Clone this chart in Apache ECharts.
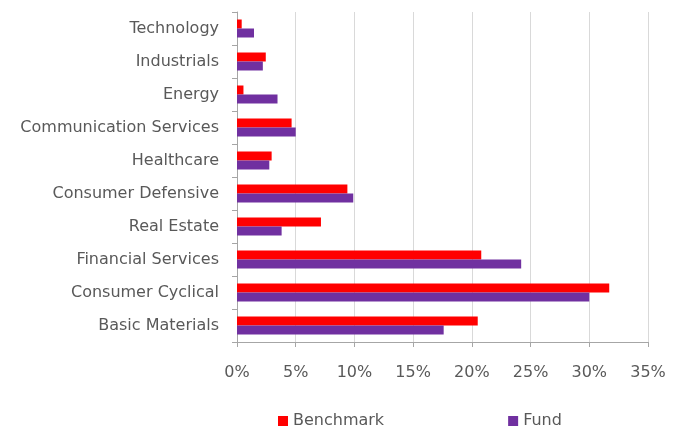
<!DOCTYPE html>
<html>
<head>
<meta charset="utf-8">
<script src="https://cdn.jsdelivr.net/npm/echarts@6/dist/echarts.min.js"></script>
<style>
  html, body { margin: 0; padding: 0; background: #fff; }
  #chart { width: 684px; height: 430px; }
</style>
</head>
<body>
<div id="chart"></div>
<script>
// sectors, bottom to top as on the chart
const sectors = ['Basic Materials', 'Consumer Cyclical', 'Financial Services', 'Real Estate',
  'Consumer Defensive', 'Healthcare', 'Communication Services', 'Energy', 'Industrials', 'Technology']
const benchmark = [20.5, 31.7, 20.8, 7.15, 9.4, 2.95, 4.65, 0.55, 2.45, 0.4]
const fund = [17.6, 30.0, 24.2, 3.8, 9.9, 2.75, 5.0, 3.45, 2.2, 1.45]
const xTicks = [0, 5, 10, 15, 20, 25, 30, 35]

const font = 'DejaVu Sans'
const textColor = '#595959'
const chart = echarts.init(document.getElementById('chart'))

chart.setOption({
  animation: false,
  textStyle: { fontFamily: font },
  grid: { left: 237, right: 36, top: 12, bottom: 88, containLabel: false },
  legend: {
    data: ['Benchmark', 'Fund'],
    left: 273,
    top: 408,
    itemWidth: 10,
    itemHeight: 10,
    itemGap: 124,
    icon: 'rect',
    textStyle: { fontFamily: font, fontSize: 16, color: textColor }
  },
  xAxis: {
    type: 'value',
    min: xTicks[0],
    max: xTicks[xTicks.length - 1],
    interval: 5,
    axisLine: { show: true, lineStyle: { color: '#a6a6a6' } },
    axisTick: { show: true, length: 5, lineStyle: { color: '#a6a6a6' } },
    splitLine: { show: true, lineStyle: { color: '#d9d9d9' } },
    axisLabel: { formatter: '{value}%', margin: 23, fontSize: 16, color: textColor, fontFamily: font }
  },
  yAxis: {
    type: 'category',
    data: sectors,
    axisLine: { show: true, lineStyle: { color: '#a6a6a6' } },
    axisTick: { show: true, length: 5, lineStyle: { color: '#a6a6a6' } },
    axisLabel: { margin: 18, fontSize: 16, color: textColor, fontFamily: font }
  },
  series: [
    {
      name: 'Benchmark',
      type: 'bar',
      data: benchmark,
      barWidth: 9,
      barGap: '0%',
      itemStyle: { color: '#ff0000' }
    },
    {
      name: 'Fund',
      type: 'bar',
      data: fund,
      barWidth: 9,
      barGap: '0%',
      itemStyle: { color: '#7030a0' }
    }
  ]
})
</script>
</body>
</html>
